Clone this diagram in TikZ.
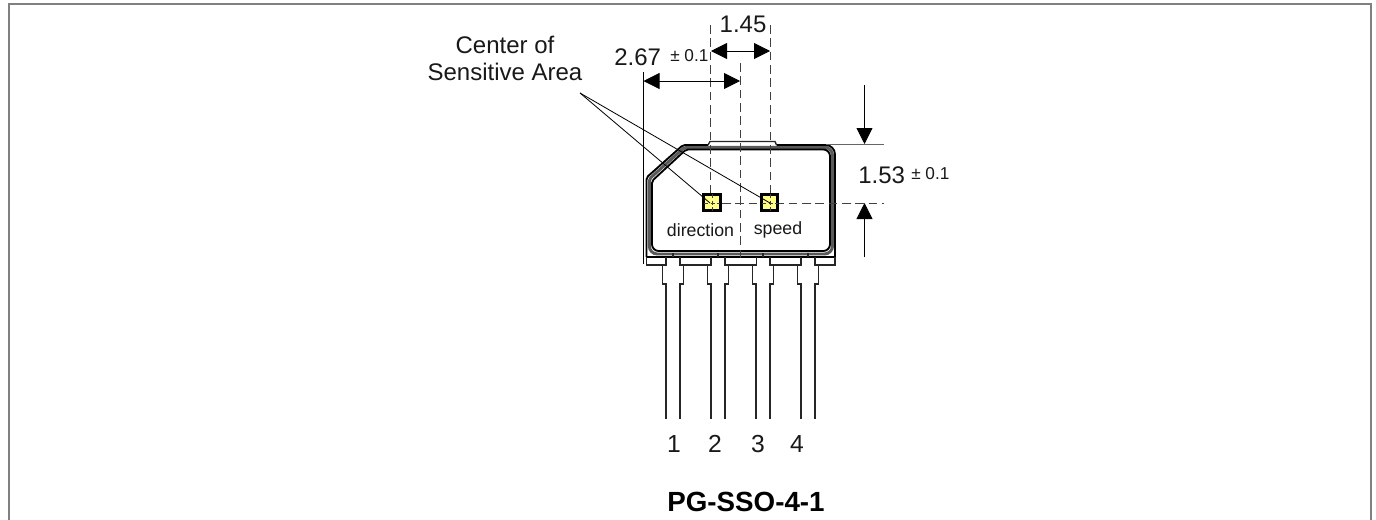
\documentclass[tikz,border=0pt]{standalone}
\usepackage{fontspec}
\setmainfont{Liberation Sans}
\usetikzlibrary{arrows.meta}
\definecolor{sensoryellow}{HTML}{FFFF85}
\tikzset{
  dim/.style={draw=black,line width=0.6pt,{Triangle[length=12pt,width=12pt]}-{Triangle[length=12pt,width=12pt]}},
  dimdown/.style={draw=black,line width=0.6pt,-{Triangle[length=12pt,width=12pt]}},
  solidline/.style={draw=black,line width=0.6pt},
  thinline/.style={draw=black!60,line width=0.8pt},
  dashline/.style={draw=black!75,line width=0.7pt,dash pattern=on 6.5pt off 3.5pt},
  pin/.style={draw=black!85,line width=1pt},
  bodyline/.style={draw=black,line width=1.4pt},
  bodymid/.style={draw=black!65,line width=2.2pt},
  sensor/.style={draw=black,fill=sensoryellow,line width=2pt,minimum size=12.3pt,inner sep=0pt,rectangle},
  bigtext/.style={font=\fontsize{18}{20}\selectfont,inner sep=0pt,text=black!90},
  smalltext/.style={font=\fontsize{13.3}{15}\selectfont,inner sep=0pt,text=black!90},
  tol/.style={font=\fontsize{12.9}{15}\selectfont,inner sep=0pt,text=black!90},
}
\begin{document}
\begin{tikzpicture}[x=0.75pt,y=-0.75pt]
\useasboundingbox (0,0) rectangle (1376,519);
\fill[white] (0,0) rectangle (1376,519);
\draw[draw=black!50,line width=1.5pt] (9,525) -- (9,4) -- (1371,4) -- (1371,525);
% body: middle band, then outer and inner outlines
\draw[bodymid] (649.3,245) [rounded corners=1.5pt] -- (649.3,179) -- (684.5,147.3) [rounded corners=6pt] -- (832.5,147.3) -- (832.5,254) -- (649.3,254) -- (649.3,245);
\draw[bodyline] (646.5,257) [rounded corners=1.5pt] -- (646.5,177.5) -- (683,145) -- (708,145);
\draw[bodyline] (776.5,145) [rounded corners=7pt] -- (835,145) [sharp corners] -- (835,257);
\draw[pin] (708,145) -- (710,141.5) -- (775,141.5) -- (776.5,145);
\draw[bodyline] (652,240) [rounded corners=1.5pt] -- (652,181) -- (686,149.5) [rounded corners=5pt] -- (830,149.5) -- (830,251) -- (652,251) -- (652,240);
\draw[bodyline] (646.5,257) -- (835,257);
% collars
\foreach \a/\b in {646.5/666,680/711,725/756.5,770/801,815/835}{
  \draw[pin] (\a,257) -- (\a,265) -- (\b,265) -- (\b,257);
}
% ticks on the lower edge
\foreach \a in {673,718,763,808}{
  \draw[pin] (\a,253) -- (\a,257);
}
% pins
\foreach \a/\b in {666/680,711/725,756/770,801/815}{
  \draw[pin] (\a-3.5,265) -- (\a-3.5,284) -- (\a,284) -- (\a,419);
  \draw[pin] (\b+3.5,265) -- (\b+3.5,284) -- (\b,284) -- (\b,419);
}
% dashed centre lines
\coordinate (d1t) at (710.5,25); \coordinate (d1b) at (710.5,203);
\coordinate (d2t) at (770.3,25); \coordinate (d2b) at (770.3,203);
\coordinate (d3t) at (740.3,63); \coordinate (d3b) at (740.3,260);
\coordinate (h1) at (722,203.4); \coordinate (h2) at (884,203.4);
\draw[dashline] (d1t) -- (d1b);
\draw[dashline] (d2t) -- (d2b);
\draw[dashline] (d3t) -- (d3b);
\draw[dashline] (h1) -- (h2);
% sensors
\node[sensor] (sd) at (712,202.5) {};
\node[sensor] (ss) at (769.5,202.5) {};
\draw[dashline,line width=0.6pt,dash pattern=on 3pt off 2pt] (712,194) -- (712,211) (704,203) -- (720,203);
\draw[dashline,line width=0.6pt,dash pattern=on 3pt off 2pt] (770,194) -- (770,211) (762,203) -- (778,203);
% extension lines
\coordinate (e1) at (643.5,72); \coordinate (e2) at (643.5,264);
\draw[solidline] (e1) -- (e2);
\coordinate (e3) at (826,144.5); \coordinate (e4) at (884,144.5);
\draw[thinline] (e3) -- (e4);
% dimensions
\coordinate (a1) at (643.5,81); \coordinate (a2) at (740,81);
\draw[dim] (a1) -- (a2);
\coordinate (b1) at (711,51); \coordinate (b2) at (770,51);
\draw[dim] (b1) -- (b2);
\coordinate (c1) at (864.5,85); \coordinate (c2) at (864.5,144);
\draw[dimdown] (c1) -- (c2);
\coordinate (c3) at (864.5,257); \coordinate (c4) at (864.5,203);
\draw[dimdown] (c3) -- (c4);
% leaders
\coordinate (lead) at (580,93);
\draw[solidline] (lead) -- (710,203);
\draw[solidline] (lead) -- (770,203);
% texts
\node[bigtext] (t145) at (743,24) {1.45};
\node[bigtext,anchor=west] (t267) at (614,57) {2.67};
\node[tol,anchor=west] (tol1) at (670,56) {± 0.1};
\node[bigtext,anchor=west] (t153) at (858,175) {1.53};
\node[tol,anchor=west] (tol2) at (911,173.5) {± 0.1};
\node[bigtext,align=center] (tc) at (505,58.5) {Center of\\Sensitive Area};
\node[smalltext] (tdir) at (700.5,230) {direction};
\node[smalltext] (tsp) at (778,230) {speed};
\node[bigtext,font=\fontsize{18.5}{20}\selectfont] (n1) at (674,444) {1};
\node[bigtext,font=\fontsize{18.5}{20}\selectfont] (n2) at (715,444) {2};
\node[bigtext,font=\fontsize{18.5}{20}\selectfont] (n3) at (758,444) {3};
\node[bigtext,font=\fontsize{18.5}{20}\selectfont] (n4) at (797,444) {4};
\node[bigtext,font=\bfseries\fontsize{20.8}{23}\selectfont,text=black] (tt) at (746,502) {PG-SSO-4-1};
\end{tikzpicture}
\end{document}
